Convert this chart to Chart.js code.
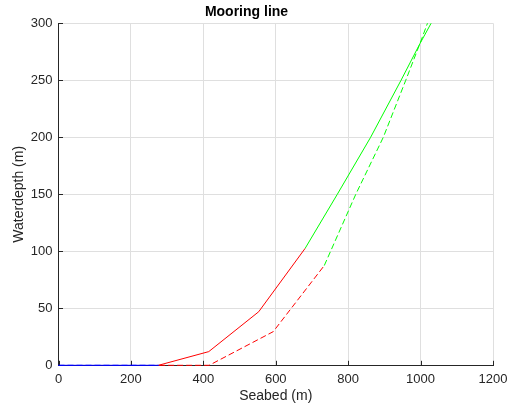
<!DOCTYPE html>
<html>
<head>
<meta charset="utf-8">
<script src="https://cdn.jsdelivr.net/npm/chart.js@4/dist/chart.umd.min.js"></script>
<style>
html,body{margin:0;padding:0;background:#fff;}
#wrap{width:507px;height:408px;}
</style>
</head>
<body>
<div id="wrap"><canvas id="c" width="507" height="408"></canvas></div>
<script>
// Solid mooring line (blue: on seabed, red: chain, green: upper line)
const solidBlueX = [0, 276];
const solidBlueY = [0, 0];
const solidRedX = [276, 415, 553, 681];
const solidRedY = [0, 12, 47, 102.5];
const solidGreenX = [681, 770, 862, 946, 998, 1029];
const solidGreenY = [102.5, 150, 200, 250, 282, 300];
// Dashed mooring line
const dashedBlueX = [0, 278];
const dashedBlueY = [0, 0];
const dashedRedX = [278, 416, 593, 734];
const dashedRedY = [0, 0, 29.5, 87.5];
const dashedGreenX = [734, 821, 897, 959, 998, 1019];
const dashedGreenY = [87.5, 150, 200, 250, 282, 300];

const xTicks = [0, 200, 400, 600, 800, 1000, 1200];
const yTicks = [0, 50, 100, 150, 200, 250, 300];

const titleText = 'Mooring line';
const xLabel = 'Seabed (m)';
const yLabel = 'Waterdepth (m)';

function pts(xs, ys){ return xs.map((x,i)=>({x:x, y:ys[i]})); }
function ds(xs, ys, color, dashed){
  return {data: pts(xs, ys), borderColor: color, backgroundColor: color,
    borderWidth: 1, pointRadius: 0, fill: false, tension: 0,
    clip: {left: 1, right: 1, top: 1, bottom: 2},
    borderDash: dashed ? [6,3] : []};
}

const axisColor = '#262626';
const gridColor = '#dfdfdf';
const FONT = "'Liberation Sans', Arial, Helvetica, sans-serif";

const inwardTicks = {
  id: 'inwardTicks',
  beforeDatasetsDraw(chart){
    const ctx = chart.ctx, a = chart.chartArea;
    const xs = chart.scales.x, ys = chart.scales.y;
    ctx.save();
    ctx.strokeStyle = axisColor; ctx.lineWidth = 1;
    ctx.beginPath();
    xs.ticks.forEach(t=>{
      const p = Math.round(xs.getPixelForValue(t.value)) + 0.5;
      ctx.moveTo(p, a.bottom); ctx.lineTo(p, a.bottom - 4.5);
    });
    ys.ticks.forEach(t=>{
      const p = Math.round(ys.getPixelForValue(t.value)) + 0.5;
      ctx.moveTo(a.left, p); ctx.lineTo(a.left + 4.5, p);
    });
    ctx.stroke();
    ctx.restore();
  }
};

new Chart(document.getElementById('c'), {
  type: 'line',
  data: {
    datasets: [
      ds(solidBlueX, solidBlueY, '#0000ff', false),
      ds(solidRedX, solidRedY, '#ff0000', false),
      ds(solidGreenX, solidGreenY, '#00ff00', false),
      ds(dashedBlueX, dashedBlueY, '#0000ff', true),
      ds(dashedRedX, dashedRedY, '#ff0000', true),
      ds(dashedGreenX, dashedGreenY, '#00ff00', true)
    ]
  },
  options: {
    responsive: false,
    animation: false,
    devicePixelRatio: 1,
    layout: {padding: {left: 0, right: 14, top: 0, bottom: 0}},
    plugins: {
      legend: {display: false},
      tooltip: {enabled: false},
      title: {display: true, text: titleText, color: '#000',
        font: {family: FONT, size: 14, weight: 'bold'},
        padding: {top: 4, bottom: 2.5}}
    },
    scales: {
      x: {
        type: 'linear', min: 0, max: 1200,
        afterBuildTicks: s => { s.ticks = xTicks.map(v=>({value:v})); },
        afterFit: s => { s.height = 42.7; s.paddingLeft = 0; s.paddingRight = 0; },
        grid: {color: gridColor, drawTicks: false, lineWidth: 1},
        border: {display: true, color: axisColor, width: 1},
        ticks: {color: axisColor, padding: 6, maxRotation: 0,
          callback: v => String(v),
          font: {family: FONT, size: 13}},
        title: {display: true, text: xLabel, color: axisColor,
          font: {family: FONT, size: 14}, padding: {top: 0, bottom: 3.3}}
      },
      y: {
        type: 'linear', min: 0, max: 300,
        afterBuildTicks: s => { s.ticks = yTicks.map(v=>({value:v})); },
        afterFit: s => { s.width = 58.5; s.paddingTop = 0; s.paddingBottom = 0; },
        grid: {color: gridColor, drawTicks: false, lineWidth: 1},
        border: {display: true, color: axisColor, width: 1},
        ticks: {color: axisColor, padding: 6,
          callback: v => String(v),
          font: {family: FONT, size: 13}},
        title: {display: true, text: yLabel, color: axisColor,
          font: {family: FONT, size: 14}, padding: {top: 11, bottom: 0}}
      }
    }
  },
  plugins: [inwardTicks]
});
</script>
</body>
</html>
